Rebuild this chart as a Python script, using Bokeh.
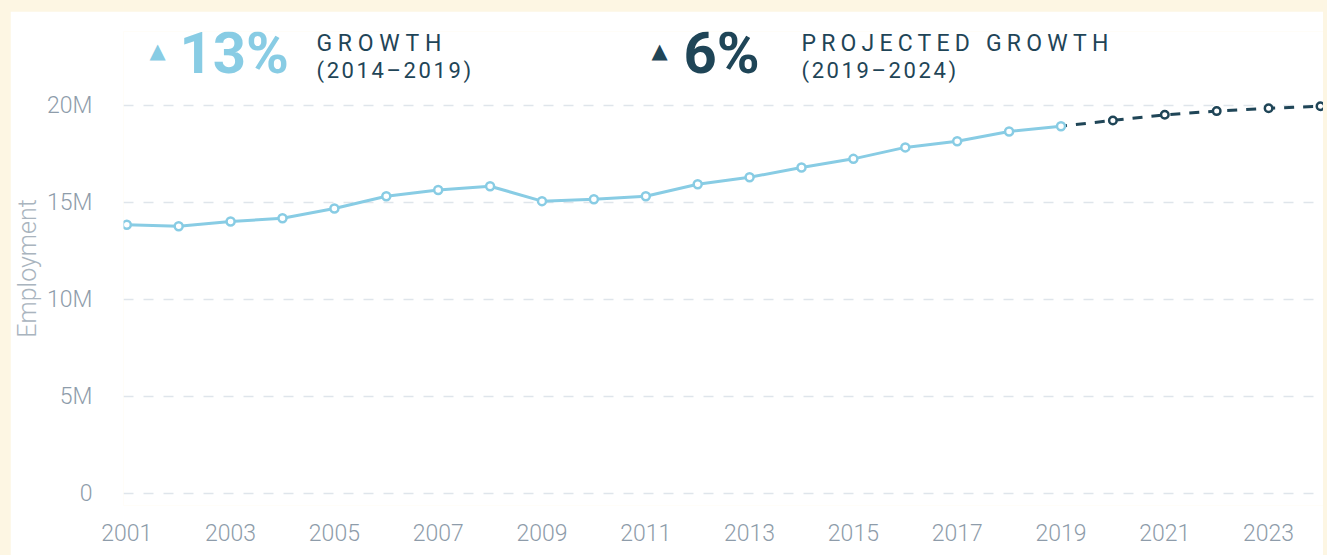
from bokeh.plotting import figure
from bokeh.layouts import column
from bokeh.models import Range1d, FixedTicker, Label
from bokeh.embed import file_html
from bokeh.resources import INLINE

# ---- data ----
years = [2001, 2002, 2003, 2004, 2005, 2006, 2007, 2008, 2009, 2010,
         2011, 2012, 2013, 2014, 2015, 2016, 2017, 2018, 2019]
employment = [13_850_000, 13_780_000, 14_020_000, 14_190_000, 14_690_000,
              15_320_000, 15_640_000, 15_840_000, 15_070_000, 15_170_000,
              15_320_000, 15_940_000, 16_300_000, 16_800_000, 17_250_000,
              17_840_000, 18_160_000, 18_660_000, 18_930_000]
proj_years = [2019, 2020, 2021, 2022, 2023, 2024]
proj_employment = [18_930_000, 19_230_000, 19_520_000, 19_710_000, 19_860_000, 19_960_000]

x_ticks = [2001, 2003, 2005, 2007, 2009, 2011, 2013, 2015, 2017, 2019, 2021, 2023]
y_ticks = [0, 5_000_000, 10_000_000, 15_000_000, 20_000_000]
y_tick_labels = ["0", "5M", "10M", "15M", "20M"]

growth_value = "13%"
growth_title = "GROWTH"
growth_period = "(2014–2019)"
proj_value = "6%"
proj_title = "PROJECTED GROWTH"
proj_period = "(2019–2024)"

# ---- style ----
LIGHT = "#88cce4"
DARK = "#1f4557"
GRID = "#dfe5eb"
TICK = "#8e9caa"
AXLAB = "#a9b4be"
CREAM = "#fdf6e3"
FONT_L = "Roboto Light"

p = figure(width=1313, height=544, output_backend="svg", toolbar_location=None,
           x_range=Range1d(2000.9366, 2024.058),
           y_range=Range1d(-618_600, 23_814_000),
           min_border_left=110, min_border_right=0, min_border_top=20,
           min_border_bottom=50, margin=(11, 4, 0, 10))

p.background_fill_color = "white"
p.border_fill_color = "white"
p.outline_line_color = None

p.xgrid.grid_line_color = None
p.ygrid.grid_line_color = GRID
p.ygrid.grid_line_width = 1.5
p.ygrid.grid_line_dash = "10 10"

p.xaxis.ticker = FixedTicker(ticks=x_ticks)
p.yaxis.ticker = FixedTicker(ticks=y_ticks)
p.yaxis.major_label_overrides = {t: l for t, l in zip(y_ticks, y_tick_labels)}

for ax in (p.xaxis, p.yaxis):
    ax.axis_line_color = None
    ax.major_tick_line_color = None
    ax.minor_tick_line_color = None
    ax.major_tick_out = 0
    ax.major_tick_in = 0
    ax.major_label_text_font = FONT_L
    ax.major_label_text_font_size = "23px"
    ax.major_label_text_color = TICK

p.xaxis.major_label_standoff = 18
p.yaxis.major_label_standoff = 31
p.yaxis.axis_label = "Employment"
p.yaxis.axis_label_text_font = FONT_L
p.yaxis.axis_label_text_font_size = "25px"
p.yaxis.axis_label_text_font_style = "normal"
p.yaxis.axis_label_text_color = AXLAB
p.yaxis.axis_label_standoff = 2

# projected (dashed) line first, so the 2019 marker sits on top
p.line(proj_years, proj_employment, line_color=DARK, line_width=3,
       line_dash="10 9", line_dash_offset=4)
p.line(years, employment, line_color=LIGHT, line_width=3)
p.scatter(years, employment, size=8, marker="circle", fill_color="white",
          line_color=LIGHT, line_width=2.5)
p.scatter(proj_years[1:], proj_employment[1:], size=7.5, marker="circle",
          fill_color="white", line_color=DARK, line_width=2.5)

# header annotations (screen units, relative to the frame's bottom-left)
def lab(x, y, text, color, size, font, style="normal", align="left", baseline="alphabetic"):
    p.add_layout(Label(x=x, y=y, x_units="screen", y_units="screen", text=text,
                       text_color=color, text_font_size=size, text_font=font,
                       text_font_style=style, text_align=align, text_baseline=baseline))

lab(34, 455, "▲", LIGHT, "21px", "DejaVu Sans", align="center", baseline="middle")
lab(56, 453, growth_value, LIGHT, "58px", "Roboto", style="bold")
lab(193, 462, growth_title, DARK, "23px", "Roboto")
lab(193, 435, growth_period, DARK, "22px", "Roboto")

lab(536, 455, "▲", DARK, "21px", "DejaVu Sans", align="center", baseline="middle")
lab(560, 453, proj_value, DARK, "58px", "Roboto", style="bold")
lab(678, 462, proj_title, DARK, "23px", "Roboto")
lab(678, 435, proj_period, DARK, "22px", "Roboto")

page = column(p, styles={"background-color": CREAM})

html = file_html(page, INLINE)

# widen the tracking of the small header captions (SVG letter-spacing)
spacing_js = """
<script>
(function(){
  var wide = {"%s": 5.7, "%s": 5.2, "%s": 2.6, "%s": 2.6};
  function walk(root){
    var els = root.querySelectorAll('*');
    for (var i = 0; i < els.length; i++) {
      var el = els[i];
      if (el.tagName && el.tagName.toLowerCase() === 'text') {
        var s = el.textContent;
        if (wide.hasOwnProperty(s)) el.setAttribute('letter-spacing', wide[s]);
      }
      if (el.shadowRoot) walk(el.shadowRoot);
    }
  }
  var n = 0;
  var id = setInterval(function(){ walk(document); if (++n > 80) clearInterval(id); }, 50);
})();
</script>
""" % (growth_title, proj_title, growth_period, proj_period)

if "</body>" in html:
    html = html.replace("</body>", spacing_js + "</body>", 1)
else:
    html += spacing_js

open("out.html", "w").write(html)
